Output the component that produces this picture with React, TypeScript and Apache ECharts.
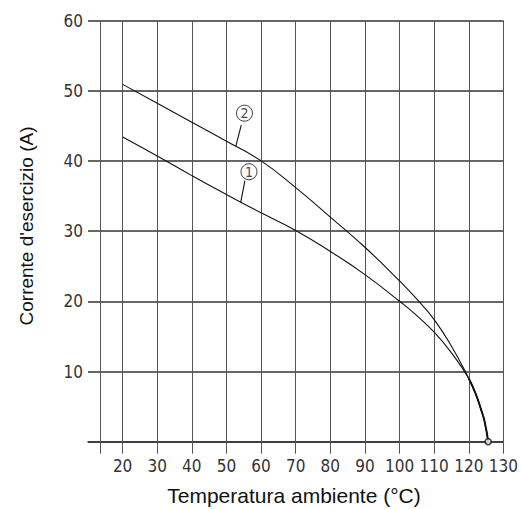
import React, { useEffect, useRef } from "react";
import * as echarts from "echarts";

// Curve values: [temperature °C, current A]
const curve1: [number, number][] = [
  [20, 43.4], [30, 40.7], [40, 37.9], [50, 35.2], [60, 32.6], [70, 30.1],
  [80, 27.1], [90, 23.8], [100, 20.0], [105, 17.95], [110, 15.6], [115, 12.65], [120, 9.0],
  [122, 6.8], [123.6, 4.5], [124.6, 2.8], [125.6, 0],
];
const curve2: [number, number][] = [
  [20, 50.9], [30, 48.2], [40, 45.5], [50, 42.8], [60, 40.0], [70, 36.2],
  [80, 32.0], [90, 27.7], [100, 22.9], [105, 20.3], [110, 17.4], [115, 13.6], [120, 9.0],
  [122, 6.8], [123.6, 4.5], [124.6, 2.8], [125.6, 0],
];
const sharedTail: [number, number][] = [
  [120, 9.0], [122, 6.8], [123.6, 4.5], [124.6, 2.8], [125.6, 0],
];
const endPoint: [number, number][] = [[125.6, 0]];

// curve tags (circle centres) and their leader lines
const tags: [number, number, string][] = [
  [55.2, 46.8, "2"],
  [56.5, 38.46, "1"],
];
const leader2: [number, number][] = [[54.27, 45.1], [52.7, 42.1]];
const leader1: [number, number][] = [[55.33, 37.18], [54.1, 34.05]];

const xTickValues = [13.6, 20, 30, 40, 50, 60, 70, 80, 90, 100, 110, 120, 130];
const xLabelValues = [20, 30, 40, 50, 60, 70, 80, 90, 100, 110, 120, 130];

const xTitle = "Temperatura ambiente (°C)";
const yTitle = "Corrente d'esercizio (A)";

const narrow = "'Liberation Sans Narrow', 'DejaVu Sans Condensed', sans-serif";
const sans = "'Liberation Sans', Arial, Helvetica, sans-serif";

export default function App() {
  const ref = useRef<HTMLDivElement>(null);
  useEffect(() => {
    if (!ref.current) return;
    const chart = echarts.init(ref.current, undefined, { renderer: "svg" });
    const curveStyle = { color: "#111", width: 1.1 };
    const option: any = {
      animation: false,
      backgroundColor: "#ffffff",
      grid: { left: 88, top: 20.5, width: 421.2, height: 421.2, containLabel: false },
      xAxis: {
        type: "value",
        min: 10,
        max: 130,
        interval: 10,
        axisLine: { show: true, onZero: false, lineStyle: { color: "#333", width: 1.5 } },
        axisTick: {
          show: true,
          customValues: xTickValues,
          length: 12,
          inside: false,
          lineStyle: { color: "#555", width: 1 },
        },
        axisLabel: {
          customValues: xLabelValues,
          margin: 16,
          color: "#333",
          fontFamily: narrow,
          fontSize: 17,
        },
        splitLine: { show: false },
      },
      yAxis: {
        type: "value",
        min: 0,
        max: 60,
        interval: 10,
        axisLine: { show: false },
        axisTick: { show: false },
        axisLabel: {
          margin: 5,
          color: "#333",
          fontFamily: narrow,
          fontSize: 17,
          formatter: (v: number) => (v === 0 ? "" : String(v)),
        },
        splitLine: { show: true, lineStyle: { color: "#333", width: 1.5 } },
      },
      graphic: [
        {
          type: "text",
          x: 294,
          y: 495.5,
          style: {
            text: xTitle,
            font: `21px ${sans}`,
            fill: "#111",
            textAlign: "center",
            textVerticalAlign: "middle",
          },
        },
        {
          type: "text",
          x: 26.5,
          y: 226,
          rotation: Math.PI / 2,
          style: {
            text: yTitle,
            font: `19px ${sans}`,
            fill: "#111",
            textAlign: "center",
            textVerticalAlign: "middle",
          },
        },
      ],
      series: [
        {
          type: "line",
          data: [],
          silent: true,
          markLine: {
            silent: true,
            symbol: ["none", "none"],
            label: { show: false },
            lineStyle: { type: "solid", color: "#555", width: 1 },
            data: xTickValues.map((v) => ({ xAxis: v })),
          },
        },
        {
          type: "line",
          data: curve1,
          showSymbol: false,
          smooth: 0.5,
          lineStyle: curveStyle,
          silent: true,
          z: 5,
        },
        {
          type: "line",
          data: curve2,
          showSymbol: false,
          smooth: 0.5,
          lineStyle: curveStyle,
          silent: true,
          z: 5,
        },
        {
          type: "line",
          data: sharedTail,
          showSymbol: false,
          smooth: 0.5,
          lineStyle: { color: "#111", width: 1.9 },
          silent: true,
          z: 6,
        },
        {
          type: "line",
          data: leader2,
          showSymbol: false,
          lineStyle: curveStyle,
          silent: true,
          z: 5,
        },
        {
          type: "line",
          data: leader1,
          showSymbol: false,
          lineStyle: curveStyle,
          silent: true,
          z: 5,
        },
        {
          type: "scatter",
          data: tags,
          symbol: "circle",
          symbolSize: 16,
          clip: false,
          itemStyle: { color: "#fff", borderColor: "#111", borderWidth: 1 },
          label: {
            show: true,
            position: "inside",
            formatter: (p: any) => p.value[2],
            color: "#111",
            fontFamily: narrow,
            fontSize: 14,
          },
          silent: true,
          z: 7,
        },
        {
          type: "scatter",
          data: endPoint,
          symbol: "circle",
          symbolSize: 6,
          clip: false,
          itemStyle: { color: "#fff", borderColor: "#111", borderWidth: 1.6 },
          silent: true,
          z: 8,
        },
      ],
    };
    chart.setOption(option);
    return () => chart.dispose();
  }, []);
  return (
    <div
      ref={ref}
      style={{ position: "absolute", left: 0, top: 0, width: 521, height: 509 }}
    />
  );
}
